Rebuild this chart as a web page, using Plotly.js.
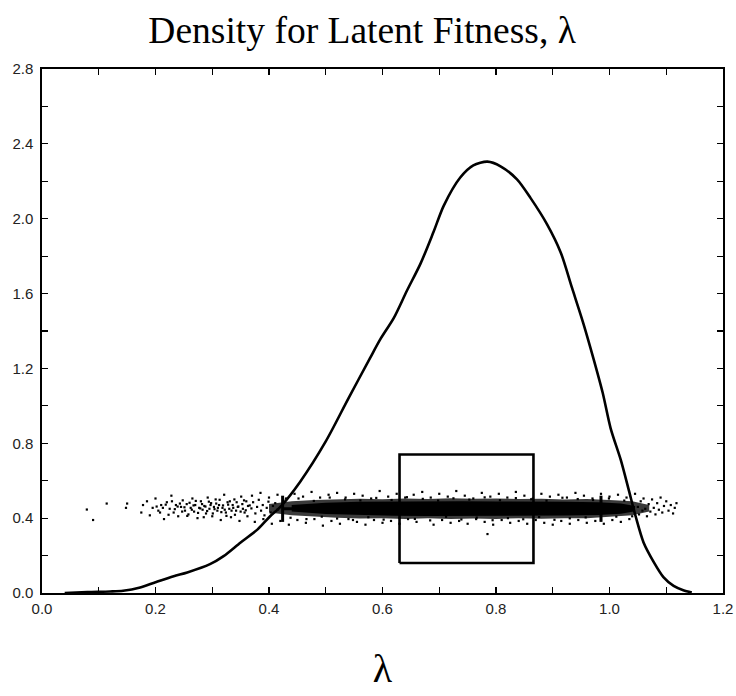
<!DOCTYPE html>
<html>
<head>
<meta charset="utf-8">
<script src="https://cdn.plot.ly/plotly-3.0.1.min.js"></script>
<style>html,body{margin:0;padding:0;background:#fff;}#chart{width:736px;height:696px;}</style>
</head>
<body>
<div id="chart"></div>
<script>
// Density curve for latent fitness
var curveX = [0.04,0.08,0.12,0.143,0.173,0.2,0.232,0.256,0.296,0.32,0.35,0.38,0.402,0.42,0.455,0.5,0.54,0.578,0.596,0.62,0.643,0.667,0.69,0.708,0.737,0.76,0.785,0.808,0.837,0.861,0.89,0.914,0.934,0.954,0.972,0.988,1.002,1.02,1.034,1.046,1.06,1.078,1.095,1.113,1.13,1.145];
var curveY = [0.0,0.005,0.008,0.012,0.03,0.058,0.09,0.11,0.154,0.197,0.27,0.34,0.41,0.46,0.595,0.81,1.04,1.255,1.355,1.47,1.615,1.76,1.93,2.07,2.22,2.285,2.305,2.28,2.21,2.11,1.97,1.82,1.63,1.44,1.25,1.07,0.88,0.71,0.55,0.41,0.27,0.165,0.085,0.038,0.015,0.003];

// Rectangle
var boxX = [0.63,0.866,0.866,0.63,0.63];
var boxY = [0.16,0.16,0.74,0.74,0.16];

// Interval bar at band centre
var barX = [0.424,0.985];
var barY = [0.45,0.45];
var capLow = 0.38, capHigh = 0.52;

// Dense band envelopes (mid and core)
var midX = [0.40,0.44,0.48,0.52,0.56,0.60,0.64,0.68,0.72,0.76,0.80,0.84,0.88,0.92,0.96,1.00,1.04,1.07];
var midUp = [0.475,0.49,0.497,0.5,0.503,0.501,0.505,0.502,0.506,0.503,0.505,0.502,0.504,0.5,0.502,0.497,0.49,0.47];
var midLo = [0.43,0.415,0.408,0.402,0.398,0.4,0.396,0.399,0.395,0.398,0.396,0.399,0.397,0.4,0.399,0.405,0.415,0.435];
var coreX = [0.44,0.5,0.56,0.62,0.68,0.74,0.8,0.86,0.92,0.98,1.02,1.045];
var coreUp = [0.47,0.482,0.487,0.489,0.49,0.49,0.489,0.49,0.488,0.485,0.478,0.465];
var coreLo = [0.435,0.422,0.416,0.413,0.412,0.411,0.412,0.413,0.414,0.417,0.424,0.437];

// Scattered sample points: sparse tails and halo
var dotX = [0.079,0.09,0.114,0.15,0.148,0.175,0.178,0.185,0.19,0.195,0.2,0.205,0.21,0.215,0.22,0.225,0.228,0.232,0.236,0.24,
0.245,0.248,0.252,0.255,0.258,0.262,0.265,0.268,0.27,0.274,0.277,0.28,0.283,0.286,0.289,0.292,0.295,0.298,0.3,0.303,0.306,0.309,0.312,0.315,0.318,0.321,0.324,0.327,0.33,0.333,0.336,0.339,0.342,0.345,0.348,0.351,0.354,0.357,0.36,0.363,
0.37,0.375,0.385,0.39,0.40,0.405,0.415,0.42,0.43,0.435,0.445,0.45,0.46,0.465,0.475,0.48,0.49,0.495,0.505,0.51,0.52,0.525,0.535,0.54,0.55,0.555,0.565,0.57,0.58,0.585,0.595,0.60,0.61,0.615,0.625,0.63,0.64,0.645,0.655,0.66,0.67,
0.685,0.69,0.70,0.705,0.715,0.72,0.73,0.735,0.745,0.75,0.76,0.765,0.775,0.78,0.785,0.79,0.795,0.805,0.81,0.82,0.825,0.835,0.84,0.85,0.855,0.865,0.87,0.88,0.885,0.895,0.90,0.91,0.915,0.925,0.93,0.94,0.945,0.955,0.96,0.97,0.975,0.985,0.99,1.0,1.005,1.015,1.02,1.03,1.035,1.045,
1.05,1.052,1.055,1.058,1.06,1.063,1.066,1.069,1.072,1.075,1.078,1.081,1.084,1.087,1.09,1.093,1.096,1.1,1.104,1.108,1.112,1.115,1.118];
var dotY = [0.446,0.39,0.478,0.478,0.455,0.43,0.47,0.49,0.415,0.455,0.505,0.44,0.47,0.395,0.485,0.45,0.52,0.43,0.47,0.41,
0.46,0.495,0.44,0.475,0.42,0.455,0.505,0.435,0.47,0.40,0.455,0.49,0.445,0.465,0.425,0.51,0.45,0.48,0.41,0.46,0.50,0.44,0.47,0.39,0.455,0.525,0.43,0.485,0.45,0.405,0.47,0.50,0.44,0.46,0.385,0.515,0.45,0.43,0.49,0.465,
0.52,0.38,0.535,0.395,0.51,0.37,0.525,0.385,0.505,0.365,0.53,0.39,0.515,0.375,0.54,0.395,0.51,0.36,0.525,0.385,0.535,0.37,0.51,0.395,0.53,0.38,0.52,0.365,0.505,0.39,0.545,0.375,0.515,0.385,0.53,0.37,0.51,0.395,0.525,0.38,0.54,
0.51,0.365,0.53,0.39,0.515,0.375,0.545,0.385,0.52,0.37,0.505,0.395,0.535,0.38,0.315,0.515,0.365,0.53,0.39,0.51,0.375,0.54,0.385,0.52,0.37,0.505,0.39,0.53,0.375,0.515,0.365,0.525,0.385,0.51,0.37,0.535,0.39,0.52,0.375,0.505,0.385,0.53,0.37,0.515,0.39,0.525,0.38,0.51,0.395,0.53,
0.46,0.42,0.49,0.44,0.505,0.45,0.41,0.475,0.435,0.50,0.455,0.42,0.48,0.445,0.51,0.43,0.465,0.49,0.44,0.47,0.425,0.455,0.48];

// Extra sample points in the left part of the cloud
var leftDotX = [0.202,0.208,0.213,0.218,0.223,0.229,0.234,0.239,0.243,0.247,0.251,0.256,0.26,0.264,0.267,0.271,0.275,0.279,0.282,0.285,0.288,0.291,0.294,0.297,0.301,0.304,0.307,0.31,0.313,0.316,0.319,0.322,0.325,0.328,0.331,0.334,0.337,0.34,0.343,0.346,0.35,0.353,0.356,0.359,0.362,0.366,0.369,0.372,0.376,0.379,0.382,0.386,0.389,0.392,0.396,0.399,0.403,0.407,0.411,0.415];
var leftDotY = [0.462,0.43,0.455,0.472,0.418,0.49,0.448,0.462,0.478,0.435,0.458,0.412,0.482,0.445,0.468,0.492,0.428,0.452,0.475,0.405,0.462,0.438,0.488,0.47,0.425,0.448,0.478,0.455,0.498,0.432,0.468,0.445,0.412,0.472,0.49,0.44,0.455,0.418,0.485,0.462,0.435,0.475,0.495,0.442,0.41,0.468,0.452,0.485,0.425,0.46,0.498,0.44,0.47,0.415,0.455,0.488,0.43,0.465,0.48,0.445];

// Extra sample points along the edges of the dense band
var edgeDotX = [0.425,0.438,0.452,0.466,0.479,0.493,0.507,0.52,0.534,0.548,0.561,0.575,0.589,0.602,0.616,0.63,0.643,0.657,0.671,0.684,0.698,0.712,0.725,0.739,0.753,0.766,0.78,0.794,0.807,0.821,0.835,0.848,0.862,0.876,0.889,0.903,0.917,0.93,0.944,0.958,0.971,0.985,0.999,1.012,1.026,1.04];
var edgeDotY = [0.498,0.402,0.505,0.395,0.492,0.408,0.51,0.398,0.5,0.39,0.495,0.405,0.508,0.392,0.497,0.401,0.512,0.396,0.503,0.388,0.494,0.407,0.506,0.393,0.499,0.403,0.511,0.389,0.496,0.4,0.507,0.394,0.501,0.406,0.493,0.391,0.509,0.399,0.502,0.404,0.497,0.392,0.505,0.408,0.494,0.41];

var dotMarker = {size: 2.2, color: '#000', symbol: 'square'};
var traces = [
  {x: midX.concat(midX.slice().reverse()), y: midUp.concat(midLo.slice().reverse()),
   mode: 'lines', fill: 'toself', fillcolor: '#3a3a3a', line: {width: 0, color: '#3a3a3a'}, hoverinfo: 'skip'},
  {x: coreX.concat(coreX.slice().reverse()), y: coreUp.concat(coreLo.slice().reverse()),
   mode: 'lines', fill: 'toself', fillcolor: '#000', line: {width: 0, color: '#000'}, hoverinfo: 'skip'},
  {x: dotX, y: dotY, mode: 'markers', marker: dotMarker},
  {x: leftDotX, y: leftDotY, mode: 'markers', marker: dotMarker},
  {x: edgeDotX, y: edgeDotY, mode: 'markers', marker: dotMarker},
  {x: barX, y: barY, mode: 'lines', line: {color: '#000', width: 3}},
  {x: [barX[0], barX[0]], y: [capLow, capHigh], mode: 'lines', line: {color: '#000', width: 3}},
  {x: [barX[1], barX[1]], y: [capLow, capHigh], mode: 'lines', line: {color: '#000', width: 3}},
  {x: boxX, y: boxY, mode: 'lines', line: {color: '#000', width: 2.6}},
  {x: curveX, y: curveY, mode: 'lines', line: {color: '#000', width: 2.6, shape: 'spline', smoothing: 0.8}}
];

var tickFont = {family: 'Liberation Sans, Arial, sans-serif', size: 15, color: '#222'};
var layout = {
  width: 736, height: 696,
  margin: {l: 42, r: 13, t: 69, b: 103},
  paper_bgcolor: '#fff', plot_bgcolor: '#fff',
  showlegend: false,
  title: {text: 'Density for Latent Fitness, λ', x: 0.492, xanchor: 'center', y: 0.957, yanchor: 'middle',
          font: {family: 'Liberation Serif, Times New Roman, serif', size: 37.5, color: '#000'}},
  xaxis: {range: [0, 1.2], dtick: 0.2, tick0: 0, tickformat: '.1f', ticks: 'inside', ticklen: 6, tickwidth: 1.2, tickcolor: '#000',
          minor: {dtick: 0.1, ticks: 'inside', ticklen: 6, tickwidth: 1.2, tickcolor: '#000'},
          showline: true, linecolor: '#000', linewidth: 1.6, mirror: 'allticks', showgrid: false, zeroline: false,
          tickfont: tickFont, ticklabelstandoff: 1,
          title: {text: 'λ', standoff: 38, font: {family: 'Liberation Serif, Times New Roman, serif', size: 40, color: '#000'}}},
  yaxis: {range: [0, 2.8], dtick: 0.4, tick0: 0, tickformat: '.1f', ticks: 'inside', ticklen: 6, tickwidth: 1.2, tickcolor: '#000',
          minor: {dtick: 0.2, ticks: 'inside', ticklen: 6, tickwidth: 1.2, tickcolor: '#000'},
          showline: true, linecolor: '#000', linewidth: 1.6, mirror: 'allticks', showgrid: false, zeroline: false,
          tickfont: tickFont, ticklabelstandoff: 4}
};
Plotly.newPlot('chart', traces, layout, {displayModeBar: false, staticPlot: true});
</script>
</body>
</html>
